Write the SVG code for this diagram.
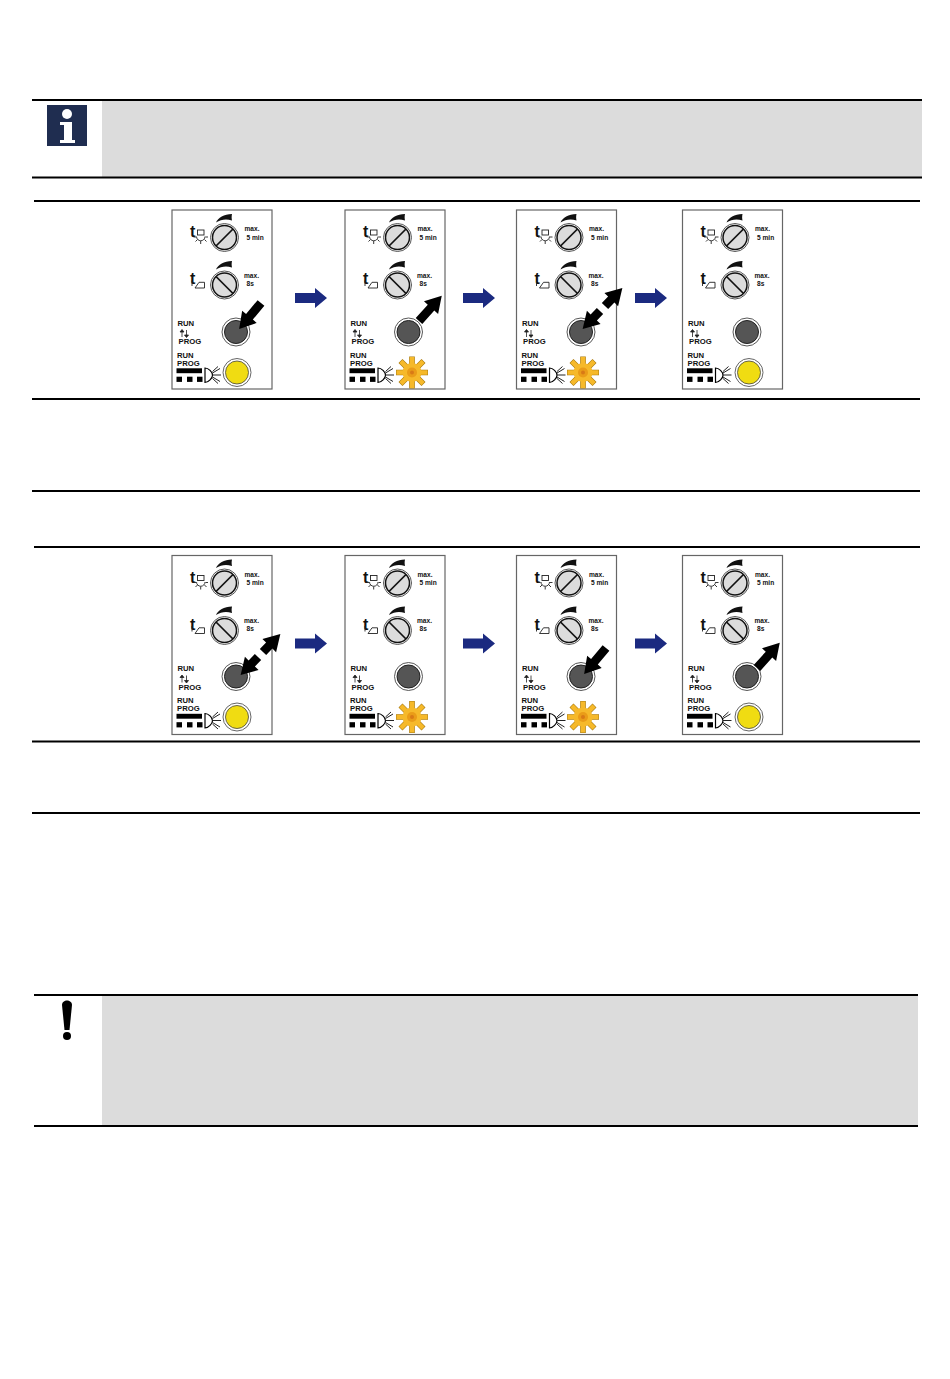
<svg xmlns="http://www.w3.org/2000/svg" width="950" height="1379" viewBox="0 0 950 1379">
<style>
text{font-family:"Liberation Sans",Arial,sans-serif;font-weight:700;fill:#111}
.s{font-size:6.6px}.m{font-size:7.7px}.t{font-size:16px;font-weight:700}
.rule{stroke:#000;stroke-width:1.900;fill:none}
.thin{stroke:#222;stroke-width:.9;fill:none}
.ray{stroke:#222;stroke-width:.9;fill:none}
</style>
<defs>
<g id="knob">
<circle r="14" fill="#fff" stroke="#444" stroke-width=".9"/>
<circle r="12" fill="#dcdcdc" stroke="#111" stroke-width="1.500"/>
</g>
<path id="crescent" d="M0 7C2 2 8-1 16-1.500C15.500 1 15.500 2.500 16 5C10 3 5 4 0 7Z" fill="#111"/>
<g id="face">
<rect x=".5" y="0" width="100" height="179" fill="#fff" stroke="#666" stroke-width="1.200"/>
<use href="#crescent" x="44.500" y="5.500"/>
<use href="#knob" x="53" y="27.500"/>
<path d="M44.500 36L61.500 19" stroke="#111" stroke-width="1.700"/>
<text class="t" x="18.500" y="27">t</text>
<rect x="26" y="20" width="6.500" height="5" fill="#fff" stroke="#222" stroke-width=".9"/>
<path class="ray" d="M25 26.500a4.200 4.200 0 0 0 8.500 0M22 27h2.500M34 27h2.500M24 31.500l2-2M35 31.500l-2-2M29.200 34v-3"/>
<use href="#crescent" x="44.500" y="52.500"/>
<use href="#knob" x="53" y="75"/>
<path d="M44.500 66.500L61.500 83.500" stroke="#111" stroke-width="1.700"/>
<text class="t" x="18.500" y="74">t</text>
<path class="thin" d="M20.500 70.500V76M23.500 78L27.500 72.300H33V78Z"/>
<text class="s" x="73" y="21">max.</text>
<text class="s" x="75" y="29.500">5 min</text>
<text class="s" x="72.500" y="67.500">max.</text>
<text class="s" x="75" y="75.700">8s</text>
<text class="m" x="6" y="115.700">RUN</text>
<path d="M10.500 127v-6M10.500 119.500l-2 2.500h4ZM15 120v6M15 127.500l-2-2.500h4Z" stroke="#222" stroke-width=".8" fill="#222"/>
<text class="m" x="7" y="134">PROG</text>
<text class="m" x="5.500" y="147.700">RUN</text>
<text class="m" x="5.500" y="155.700">PROG</text>
<rect x="5" y="158.300" width="25.500" height="4.900" fill="#000"/>
<rect x="5" y="166.700" width="5.500" height="5.200" fill="#000"/>
<rect x="15.500" y="166.700" width="5.500" height="5.200" fill="#000"/>
<rect x="25.500" y="166.700" width="5.500" height="5.200" fill="#000"/>
<path d="M33.500 158v14.500C37 172.500 41 168 41 165.200C41 162 37 158 33.500 158Z" fill="#fff" stroke="#000" stroke-width="1.200"/>
<path d="M41 165h8.500M41 163l7.500-4.500M41 167l7.500 4.500M41 161.500l5.500-5M41 168.500l5.500 5" stroke="#222" stroke-width="1"/>
</g>
<g id="button">
<circle r="14" fill="#fff" stroke="#444" stroke-width=".9"/>
<circle r="11.500" fill="#555" stroke="#222" stroke-width="1"/>
</g>
<g id="yellow">
<circle r="14" fill="#fff" stroke="#555" stroke-width=".9"/>
<circle r="11.500" fill="#f0dc12" stroke="#444" stroke-width=".8"/>
</g>
<g id="star">
<g stroke="#a87a10" stroke-width="5.600">
<path d="M-16 0H16M0-16V16M-11.500-11.500L11.500 11.500M-11.500 11.500L11.500-11.500"/>
</g>
<circle r="9.500" fill="#f6b92a"/>
<g stroke="#f6b92a" stroke-width="4.400">
<path d="M-15.500 0H15.500M0-15.500V15.500M-11.100-11.100L11.100 11.100M-11.100 11.100L11.100-11.100"/>
</g>
<circle r="5" fill="#ea9c18"/>
<circle r="2" fill="#d97a16"/>
</g>
<polygon id="press" points="0,-4.400 18,-4.400 18,-9.500 34,0 18,9.500 18,4.400 0,4.400" fill="#000"/>
<polygon id="head" points="0,-4.400 9,-4.400 9,-9.500 25,0 9,9.500 9,4.400 0,4.400" fill="#000"/>
<polygon id="blue" points="0,-5 20,-5 20,-10 32,0 20,10 20,5 0,5" fill="#1b2a80"/>
</defs>

<rect width="950" height="1379" fill="#fff"/>

<g id="info-block">
<rect x="102" y="101" width="820" height="76" fill="#dcdcdc"/>
<rect x="47" y="105" width="40" height="41" fill="#1f2d50"/>
<circle cx="67" cy="114" r="5" fill="#fff"/>
<path d="M60 122H72V140H75V143H60V140H64V125H60Z" fill="#fff"/>
</g>
<g id="warning-block">
<rect x="102" y="996" width="816" height="130" fill="#dcdcdc"/>
<path d="M62 1005C62 999 72 999 72 1005L69.500 1030H64.500Z" fill="#000"/>
<circle cx="67" cy="1036" r="4" fill="#000"/>
</g>
<g id="rules">
<path class="rule" d="M32 100H922M32 177.500H922M34 201H920M32 399H920M32 491H920M34 547H920M32 741.500H920M32 813H920M34 995H918M34 1126H918"/>
</g>

<g id="panel-1-1" transform="translate(171.500 210)">
<use href="#face"/><use href="#button" x="64.500" y="122"/><use href="#yellow" x="65.500" y="162.500"/>
</g>
<g id="panel-1-2" transform="translate(344.500 210)">
<use href="#face"/><use href="#button" x="64" y="122"/><use href="#star" x="67.500" y="162.500"/>
</g>
<g id="panel-1-3" transform="translate(516 210)">
<use href="#face"/><use href="#button" x="65" y="122"/><use href="#star" x="67" y="162.500"/>
</g>
<g id="panel-1-4" transform="translate(682 210)">
<use href="#face"/><use href="#button" x="65" y="122"/><use href="#yellow" x="67" y="162.500"/>
</g>
<g id="panel-2-1" transform="translate(171.500 555.500)">
<use href="#face"/><use href="#button" x="64.500" y="121"/><use href="#yellow" x="65.500" y="161.500"/>
</g>
<g id="panel-2-2" transform="translate(344.500 555.500)">
<use href="#face"/><use href="#button" x="64" y="121"/><use href="#star" x="67.500" y="161.500"/>
</g>
<g id="panel-2-3" transform="translate(516 555.500)">
<use href="#face"/><use href="#button" x="65" y="121"/><use href="#star" x="67" y="161.500"/>
</g>
<g id="panel-2-4" transform="translate(682 555.500)">
<use href="#face"/><use href="#button" x="65" y="121"/><use href="#yellow" x="67" y="161.500"/>
</g>

<g id="connectors">
<use href="#blue" transform="translate(295 298)"/>
<use href="#blue" transform="translate(463 298)"/>
<use href="#blue" transform="translate(635 298)"/>
<use href="#blue" transform="translate(295 643.500)"/>
<use href="#blue" transform="translate(463 643.500)"/>
<use href="#blue" transform="translate(635 643.500)"/>
<use href="#press" transform="translate(261 303) rotate(130)"/>
<use href="#press" transform="translate(419 321) rotate(-48)"/>
<use href="#head" transform="translate(600 311) rotate(134)"/>
<use href="#head" transform="translate(605 306) rotate(-46)"/>
<use href="#head" transform="translate(258 657) rotate(134)"/>
<use href="#head" transform="translate(263 652) rotate(-46)"/>
<use href="#press" transform="translate(606 648) rotate(130)"/>
<use href="#press" transform="translate(757 668) rotate(-48)"/>
</g>
</svg>
